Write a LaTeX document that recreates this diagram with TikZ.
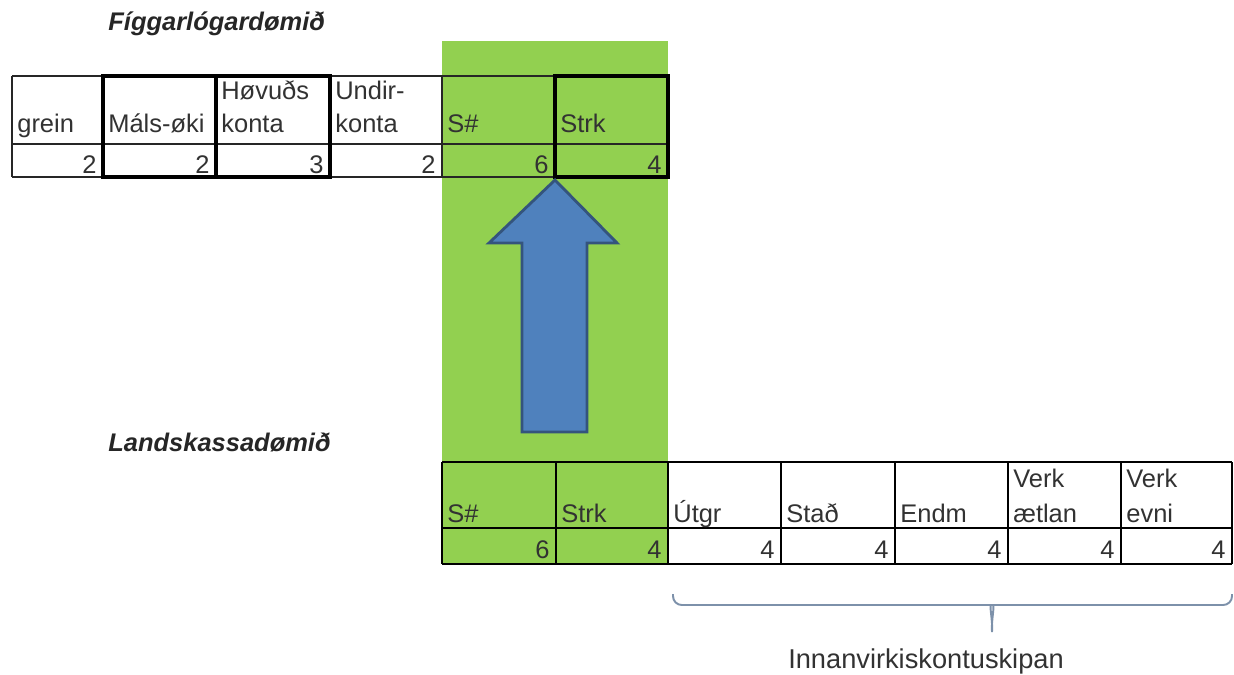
\documentclass[tikz,border=0pt]{standalone}
\usepackage{fontspec}
\setmainfont{Liberation Sans}
\usetikzlibrary{positioning}
\definecolor{bandgreen}{RGB}{146,208,80}
\definecolor{arrowblue}{RGB}{79,129,189}
\definecolor{arrowedge}{RGB}{52,84,125}
\definecolor{bracegray}{RGB}{125,145,170}
\definecolor{txtgray}{RGB}{50,50,50}

\begin{document}
\begin{tikzpicture}[x=0.02cm, y=-0.02cm,
    hdr/.style={anchor=base west, inner sep=0pt, text=txtgray, font=\fontsize{14.5}{17}\selectfont},
    val/.style={anchor=base east, inner sep=0pt, text=txtgray, font=\fontsize{14.5}{17}\selectfont},
    tabtitle/.style={anchor=base west, inner sep=0pt, text=black!85, font=\fontsize{14.5}{17}\selectfont\bfseries\itshape},
    gridline/.style={draw=black!85, line width=0.8pt},
    lowgrid/.style={draw=black, line width=1.1pt},
    thickbox/.style={draw=black, line width=2.4pt}]
        \useasboundingbox (0,0) rectangle (1234,675);
        % Green band
        \fill[bandgreen] (442,41) rectangle (668,564);

        % Titles
        \node (t1) at (108,31) [tabtitle] {Fíggarlógardømið};
        \node (t2) at (108,452) [tabtitle] {Landskassadømið};

        % Upper table
        \foreach \y in {76,144,177} {
            \draw[gridline] (12,\y) -- (668,\y);
        }
        \foreach \x in {12,103,216,330,442,555,668} {
            \draw[gridline] (\x,76) -- (\x,177);
        }
        \draw[thickbox] (103,76) rectangle (216,177);
        \draw[thickbox] (216,76) rectangle (330,177);
        \draw[thickbox] (555,76) rectangle (668,177);

        \node (u1) at (17,133) [hdr] {grein};
        \node (u2) at (108,133) [hdr] {Máls-øki};
        \node (u3a) at (221,100) [hdr] {Høvuðs};
        \node (u3b) at (221,133) [hdr] {konta};
        \node (u4a) at (335,100) [hdr] {Undir-};
        \node (u4b) at (335,133) [hdr] {konta};
        \node (u5) at (447,133) [hdr] {S\#};
        \node (u6) at (560,133) [hdr] {Strk};
        \foreach \x/\v [count=\i] in {97/2,210/2,324/3,436/2,549/6,662/4} {
            \node (uv\i) at (\x,174) [val] {\v};
        }

        % Lower table
        \foreach \y in {462,528,564} {
            \draw[lowgrid] (442,\y) -- (1232,\y);
        }
        \foreach \x in {442,556,668,781,895,1008,1121,1232} {
            \draw[lowgrid] (\x,462) -- (\x,564);
        }

        \node (l1) at (447,522) [hdr] {S\#};
        \node (l2) at (561,522) [hdr] {Strk};
        \node (l3) at (673,522) [hdr] {Útgr};
        \node (l4) at (786,522) [hdr] {Stað};
        \node (l5) at (900,522) [hdr] {Endm};
        \node (l6a) at (1013,487) [hdr] {Verk};
        \node (l6b) at (1013,522) [hdr] {ætlan};
        \node (l7a) at (1126,487) [hdr] {Verk};
        \node (l7b) at (1126,522) [hdr] {evni};
        \foreach \x/\v [count=\i] in {550/6,662/4,775/4,889/4,1002/4,1115/4,1226/4} {
            \node (lv\i) at (\x,558) [val] {\v};
        }

        % Block arrow
        \filldraw[fill=arrowblue, draw=arrowedge, line width=1.6pt, line join=miter]
            (555,180) -- (617,243) -- (587,243) -- (587,432)
            -- (522,432) -- (522,243) -- (489,243) -- cycle;

        % Brace
        \coordinate (brL) at (673,594);
        \coordinate (brR) at (1232,594);
        \coordinate (brTip) at (992,632);
        \draw[bracegray, line width=1.1pt, rounded corners=5]
            (brL) |- (984,605) to[out=0,in=95] (brTip);
        \draw[bracegray, line width=1.1pt, rounded corners=5]
            (brR) |- (1000,605) to[out=180,in=85] (brTip);
        \node (lbl) at (926,668) [anchor=base, inner sep=0pt, text=txtgray,
            font=\fontsize{15.5}{18}\selectfont] {Innanvirkiskontuskipan};
\end{tikzpicture}
\end{document}
